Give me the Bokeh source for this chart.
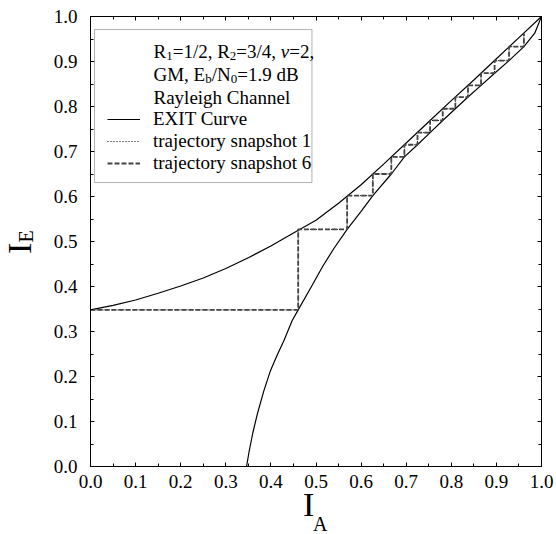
import math
from bokeh.plotting import figure
from bokeh.models import (Range1d, LinearAxis, FixedTicker, PrintfTickFormatter,
                          CustomJSTickFormatter, Label, BoxAnnotation, Legend, LegendItem, Title)
from bokeh.embed import file_html
from bokeh.resources import INLINE

# ---------------- data ----------------
exit1_ia = [0.0, 0.05, 0.1, 0.15, 0.2, 0.25, 0.3, 0.35, 0.4, 0.45, 0.5, 0.55, 0.6,
            0.65, 0.7, 0.75, 0.8, 0.85, 0.9, 0.95, 1.0]
exit1_ie = [0.348, 0.358, 0.370, 0.385, 0.401, 0.419, 0.440, 0.464, 0.490, 0.519, 0.547,
            0.585, 0.626, 0.672, 0.719, 0.766, 0.813, 0.859, 0.906, 0.953, 1.0]

exit2_ia = [0.346, 0.352, 0.360, 0.370, 0.384, 0.399, 0.414, 0.429, 0.447, 0.4605, 0.490,
            0.515, 0.540, 0.569, 0.600, 0.626, 0.667, 0.696, 0.725, 0.753, 0.781, 0.809,
            0.837, 0.866, 0.896, 0.928, 0.961, 0.985, 1.0]
exit2_ie = [0.0, 0.035, 0.075, 0.117, 0.167, 0.213, 0.248, 0.280, 0.324, 0.348, 0.400,
            0.445, 0.485, 0.527, 0.567, 0.602, 0.650, 0.688, 0.715, 0.742, 0.769, 0.795,
            0.821, 0.847, 0.874, 0.902, 0.933, 0.963, 1.0]

# trajectories: vertical step positions (I_A) and horizontal levels (I_E)
traj1_ia = [0.0, 0.4605, 0.569, 0.626, 0.667, 0.696, 0.725, 0.753, 0.781, 0.809, 0.837,
            0.866, 0.896, 0.928, 0.961]
traj1_ie = [0.348, 0.527, 0.602, 0.650, 0.688, 0.715, 0.742, 0.769, 0.795, 0.821, 0.847,
            0.874, 0.902, 0.933, 0.963]
traj6_ia = [0.0, 0.4605, 0.569, 0.626, 0.667, 0.696, 0.725, 0.753, 0.781, 0.809, 0.837,
            0.866, 0.896, 0.928, 0.961]
traj6_ie = [0.348, 0.527, 0.602, 0.650, 0.688, 0.715, 0.742, 0.769, 0.795, 0.821, 0.847,
            0.874, 0.902, 0.933, 0.963]

major_ticks = [0.0, 0.1, 0.2, 0.3, 0.4, 0.5, 0.6, 0.7, 0.8, 0.9, 1.0]
minor_ticks = [0.05, 0.15, 0.25, 0.35, 0.45, 0.55, 0.65, 0.75, 0.85, 0.95]

legend_labels = ["EXIT Curve", "trajectory snapshot 1", "trajectory snapshot 6"]


def staircase(ia, ie):
    xs, ys = [ia[0]], [ie[0]]
    for k in range(1, len(ia)):
        xs += [ia[k], ia[k]]
        ys += [ie[k - 1], ie[k]]
    return xs, ys


FONT = "Liberation Serif"

p = figure(width=556, height=534, output_backend="svg", toolbar_location=None,
           x_range=Range1d(0, 1), y_range=Range1d(0, 1),
           x_axis_location=None, y_axis_location=None,
           min_border_left=90, min_border_right=15, min_border_top=16, min_border_bottom=68)
p.grid.visible = False
p.outline_line_color = "black"
p.outline_line_width = 1
p.background_fill_color = "white"
p.border_fill_color = "white"

ticker = FixedTicker(ticks=major_ticks, minor_ticks=minor_ticks)


def make_axis(labels, standoff):
    if labels:
        ax = LinearAxis(ticker=ticker, formatter=PrintfTickFormatter(format="%.1f"))
        ax.major_label_text_font_size = "19px"
        ax.major_label_standoff = standoff
    else:
        ax = LinearAxis(ticker=ticker, formatter=CustomJSTickFormatter(code="return ''"))
        ax.major_label_standoff = 0
    ax.axis_line_color = "black"
    ax.major_tick_line_color = "black"
    ax.minor_tick_line_color = "black"
    ax.major_tick_in = 4
    ax.major_tick_out = 0
    ax.minor_tick_in = 3
    ax.minor_tick_out = 0
    ax.major_label_text_font = FONT
    ax.major_label_text_color = "black"
    return ax


xaxis = make_axis(True, 8)
yaxis = make_axis(True, 13)
# subscript "E" of the vertical title is carried by the left axis label
yaxis.axis_label = "\u00a0\u00a0E"
yaxis.axis_label_text_font = FONT
yaxis.axis_label_text_font_size = "20px"
yaxis.axis_label_text_font_style = "normal"
yaxis.axis_label_text_color = "black"
yaxis.axis_label_standoff = 14

p.add_layout(xaxis, "below")
p.add_layout(yaxis, "left")
p.add_layout(make_axis(False, 0), "above")
p.add_layout(make_axis(False, 0), "right")

# axis titles: "I" with subscripts
p.add_layout(Title(text="I", text_font=FONT, text_font_size="34px", text_font_style="normal",
                   text_color="black", align="left", vertical_align="middle",
                   offset=212.5, standoff=-11), "below")
p.add_layout(Title(text="A", text_font=FONT, text_font_size="20px", text_font_style="normal",
                   text_color="black", align="left", vertical_align="middle",
                   offset=222.5, standoff=-13), "below")
p.add_layout(Title(text="I", text_font=FONT, text_font_size="34px", text_font_style="normal",
                   text_color="black", align="left", vertical_align="bottom",
                   offset=212.5, standoff=-53), "left")

# ---------------- curves ----------------
c1 = p.line(exit1_ia, exit1_ie, line_color="black", line_width=1.2)
c2 = p.line(exit2_ia, exit2_ie, line_color="black", line_width=1.2)
t1x, t1y = staircase(traj1_ia, traj1_ie)
t6x, t6y = staircase(traj6_ia, traj6_ie)
r1 = p.line(t1x, t1y, line_color="black", line_width=1.0, line_dash="1 2")
r6 = p.line(t6x, t6y, line_color="#444444", line_width=1.8, line_dash="5 2")

# ---------------- legend box ----------------
box = BoxAnnotation(left=0.009, right=0.491, bottom=0.631, top=0.971,
                    fill_color="white", fill_alpha=1.0, line_color="black", line_width=1)
p.add_layout(box)

WID = {' ': 250, ',': 250, '.': 250, '/': 278, '=': 564, 'A': 722, 'B': 667, 'C': 667,
       'E': 611, 'G': 722, 'I': 333, 'M': 889, 'N': 722, 'R': 667, 'T': 611, 'X': 722,
       'a': 444, 'b': 500, 'd': 500, 'e': 444, 'g': 500, 'h': 500, 'i': 278, 'l': 278,
       'y': 500, 'ν': 440}


def tw(s, size):
    return sum(WID.get(ch, 500) for ch in s) * size / 1000.0


header = [
    [("R", "n"), ("1", "s"), ("=1/2, R", "n"), ("2", "s"), ("=3/4, ", "n"), ("ν", "i"), ("=2,", "n")],
    [("GM, E", "n"), ("b", "s"), ("/N", "n"), ("0", "s"), ("=1.9 dB", "n")],
    [("Rayleigh Channel", "n")],
]
BIG, SMALL = 19, 13
x0 = 63
baselines = [-35, -58, -81]
for runs, yb in zip(header, baselines):
    x = x0
    for txt, kind in runs:
        size = SMALL if kind == "s" else BIG
        lab = Label(x=0, y=1, x_units="data", y_units="data", x_offset=x,
                    y_offset=yb - (4 if kind == "s" else 0), text=txt,
                    text_font=FONT, text_font_size=f"{size}px", text_color="black",
                    text_baseline="alphabetic", text_align="left",
                    text_font_style="italic" if kind == "i" else "normal")
        p.add_layout(lab)
        x += tw(txt, size)

legend = Legend(items=[LegendItem(label=legend_labels[0], renderers=[c1]),
                       LegendItem(label=legend_labels[1], renderers=[r1]),
                       LegendItem(label=legend_labels[2], renderers=[r6])],
                location=(17, 292), padding=0, margin=0, spacing=0,
                glyph_width=33, glyph_height=22, label_height=22, label_standoff=13,
                label_text_font=FONT, label_text_font_size="19px", label_text_color="black",
                border_line_alpha=0, background_fill_alpha=0)
p.add_layout(legend)

open("out.html", "w").write(file_html(p, INLINE))
